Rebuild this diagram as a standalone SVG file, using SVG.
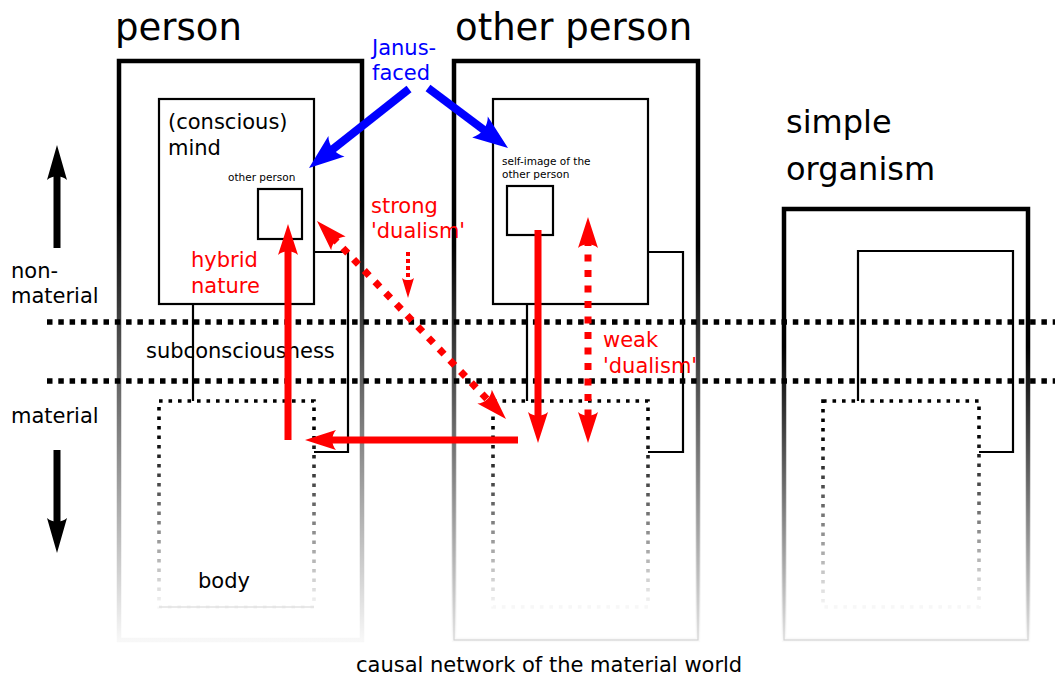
<svg xmlns="http://www.w3.org/2000/svg" width="1055" height="679" viewBox="0 0 1055 679">
  <style>
    text { font-family: "DejaVu Sans", "Liberation Sans", sans-serif; }
    .title { font-size: 37px; fill: #000; }
    .big { font-size: 32px; fill: #000; }
    .lbl { font-size: 21px; fill: #000; }
    .small { font-size: 10.5px; fill: #000; }
    .red { font-size: 21px; fill: #ff0000; }
    .blue { font-size: 21px; fill: #0000ff; }
    .outer { fill: none; stroke-width: 4.5; }
    .outline { fill: none; stroke: #d8d8d8; stroke-width: 1.2; }
    .mind { fill: none; stroke: #000; stroke-width: 2.2; }
    .link { fill: none; stroke: #000; stroke-width: 2.2; }
    .body { fill: none; stroke: url(#fadeBody); stroke-width: 3.6; stroke-dasharray: 3.6 5.9; }
    .level { fill: none; stroke: #000; stroke-width: 5.5; stroke-dasharray: 5.5 5.8; }
    .arr-red { fill: none; stroke: #ff0000; stroke-width: 7; }
    .arr-red-dot { fill: none; stroke: #ff0000; stroke-width: 7; stroke-dasharray: 7 8.5; }
    .arr-blue { fill: none; stroke: #0000ff; stroke-width: 8; }
    .arr-black { fill: none; stroke: #000; stroke-width: 7; }
  </style>
  <defs>
    <linearGradient id="fadePerson" x1="0" y1="0" x2="0" y2="1">
      <stop offset="0.25" stop-color="#000" stop-opacity="1"/>
      <stop offset="1" stop-color="#000" stop-opacity="0.03"/>
    </linearGradient>
    <linearGradient id="fadeOrg" x1="0" y1="0" x2="0" y2="1">
      <stop offset="0.32" stop-color="#000" stop-opacity="1"/>
      <stop offset="1" stop-color="#000" stop-opacity="0.02"/>
    </linearGradient>
    <linearGradient id="fadeBody" x1="0" y1="0" x2="0" y2="1">
      <stop offset="0.15" stop-color="#000" stop-opacity="1"/>
      <stop offset="1" stop-color="#000" stop-opacity="0.03"/>
    </linearGradient>
    <marker id="headRed" markerUnits="userSpaceOnUse" orient="auto-start-reverse" overflow="visible" refX="-22" refY="0" markerWidth="1" markerHeight="1">
      <path d="M0,0 L-31,-10 C-26,-4 -26,4 -31,10 Z" fill="#ff0000"/>
    </marker>
    <marker id="headRedSmall" markerUnits="userSpaceOnUse" orient="auto" overflow="visible" refX="-14" refY="0" markerWidth="1" markerHeight="1">
      <path d="M0,0 L-20,-6 C-17,-2.5 -17,2.5 -20,6 Z" fill="#ff0000"/>
    </marker>
    <marker id="headBlue" markerUnits="userSpaceOnUse" orient="auto" overflow="visible" refX="-25" refY="0" markerWidth="1" markerHeight="1">
      <path d="M0,0 L-35,-13 C-29,-5 -29,5 -35,13 Z" fill="#0000ff"/>
    </marker>
    <marker id="headBlack" markerUnits="userSpaceOnUse" orient="auto" overflow="visible" refX="-25" refY="0" markerWidth="1" markerHeight="1">
      <path d="M0,0 L-35,-10 C-30,-4 -30,4 -35,10 Z" fill="#000"/>
    </marker>
  </defs>

  <rect width="1055" height="679" fill="#fff"/>

  <!-- person -->
  <g id="person">
    <rect class="outer" x="119" y="61" width="243" height="579" stroke="url(#fadePerson)"/>
    <rect class="mind" x="159" y="99" width="155" height="205"/>
    <rect class="mind" x="258" y="189" width="44" height="50"/>
    <path class="link" d="M193,304 V401 M314,252 H348 V452 H314"/>
    <rect class="body" x="159" y="401" width="155" height="206"/>
    <line x1="159" y1="607" x2="314" y2="607" stroke="#d4d4d4" stroke-width="1.2"/>
    <text class="title" x="115" y="40">person</text>
    <text class="lbl" x="168" y="129">(conscious)</text>
    <text class="lbl" x="168" y="155">mind</text>
    <text class="small" x="228" y="181">other person</text>
    <text class="lbl" x="198" y="588">body</text>
  </g>

  <!-- other person -->
  <g id="other-person">
    <rect class="outline" x="454" y="61" width="244" height="579"/>
    <rect class="outer" x="454" y="61" width="244" height="579" stroke="url(#fadeOrg)"/>
    <rect class="mind" x="493" y="99" width="155" height="205"/>
    <rect class="mind" x="507" y="186" width="46" height="49"/>
    <path class="link" d="M527,304 V401 M648,252 H683 V452 H648"/>
    <rect class="body" x="493" y="401" width="155" height="206"/>
    <text class="title" x="455" y="40">other person</text>
    <text class="small" x="502" y="165">self-image of the</text>
    <text class="small" x="502" y="178">other person</text>
  </g>

  <!-- simple organism -->
  <g id="simple-organism">
    <rect class="outline" x="784" y="209" width="244" height="431"/>
    <rect class="outer" x="784" y="209" width="244" height="431" stroke="url(#fadeOrg)"/>
    <path class="link" d="M858,401 V251 H1013 V452 H979"/>
    <rect class="body" x="823" y="401" width="156" height="206"/>
    <text class="big" x="786" y="133">simple</text>
    <text class="big" x="786" y="180">organism</text>
  </g>

  <!-- level boundaries -->
  <g id="levels">
    <line class="level" x1="47" y1="322" x2="1055" y2="322"/>
    <line class="level" x1="47" y1="381" x2="1055" y2="381"/>
    <text class="lbl" x="11" y="278">non-</text>
    <text class="lbl" x="11" y="303">material</text>
    <text class="lbl" x="146" y="358">subconsciousness</text>
    <text class="lbl" x="11" y="423">material</text>
    <text class="lbl" x="356" y="672">causal network of the material world</text>
  </g>

  <!-- connectors -->
  <g id="connectors">
    <line class="arr-black" x1="57" y1="248" x2="57" y2="170" marker-end="url(#headBlack)"/>
    <line class="arr-black" x1="57" y1="450" x2="57" y2="528" marker-end="url(#headBlack)"/>

    <line class="arr-blue" x1="409" y1="89" x2="328.6" y2="152.5" marker-end="url(#headBlue)"/>
    <line class="arr-blue" x1="428" y1="88" x2="488" y2="133" marker-end="url(#headBlue)"/>

    <line class="arr-red" x1="288" y1="440" x2="288" y2="246" marker-end="url(#headRed)"/>
    <line class="arr-red" x1="518" y1="440" x2="327" y2="440" marker-end="url(#headRed)"/>
    <line class="arr-red" x1="538" y1="230" x2="538" y2="421" marker-end="url(#headRed)"/>
    <line class="arr-red-dot" x1="588" y1="239" x2="588" y2="421" marker-start="url(#headRed)" marker-end="url(#headRed)"/>
    <line class="arr-red-dot" x1="332.2" y1="236.9" x2="490.8" y2="403.1" marker-start="url(#headRed)" marker-end="url(#headRed)"/>
    <line x1="408" y1="252" x2="408" y2="284" stroke="#ff0000" stroke-width="4" stroke-dasharray="4 3" marker-end="url(#headRedSmall)"/>
  </g>

  <!-- annotations -->
  <g id="annotations">
    <text class="blue" x="372" y="55">Janus-</text>
    <text class="blue" x="372" y="80">faced</text>
    <text class="red" x="371" y="213">strong</text>
    <text class="red" x="371" y="238">'dualism'</text>
    <text class="red" x="191" y="267">hybrid</text>
    <text class="red" x="191" y="293">nature</text>
    <text class="red" x="603" y="347">weak</text>
    <text class="red" x="603" y="373">'dualism'</text>
  </g>
</svg>
